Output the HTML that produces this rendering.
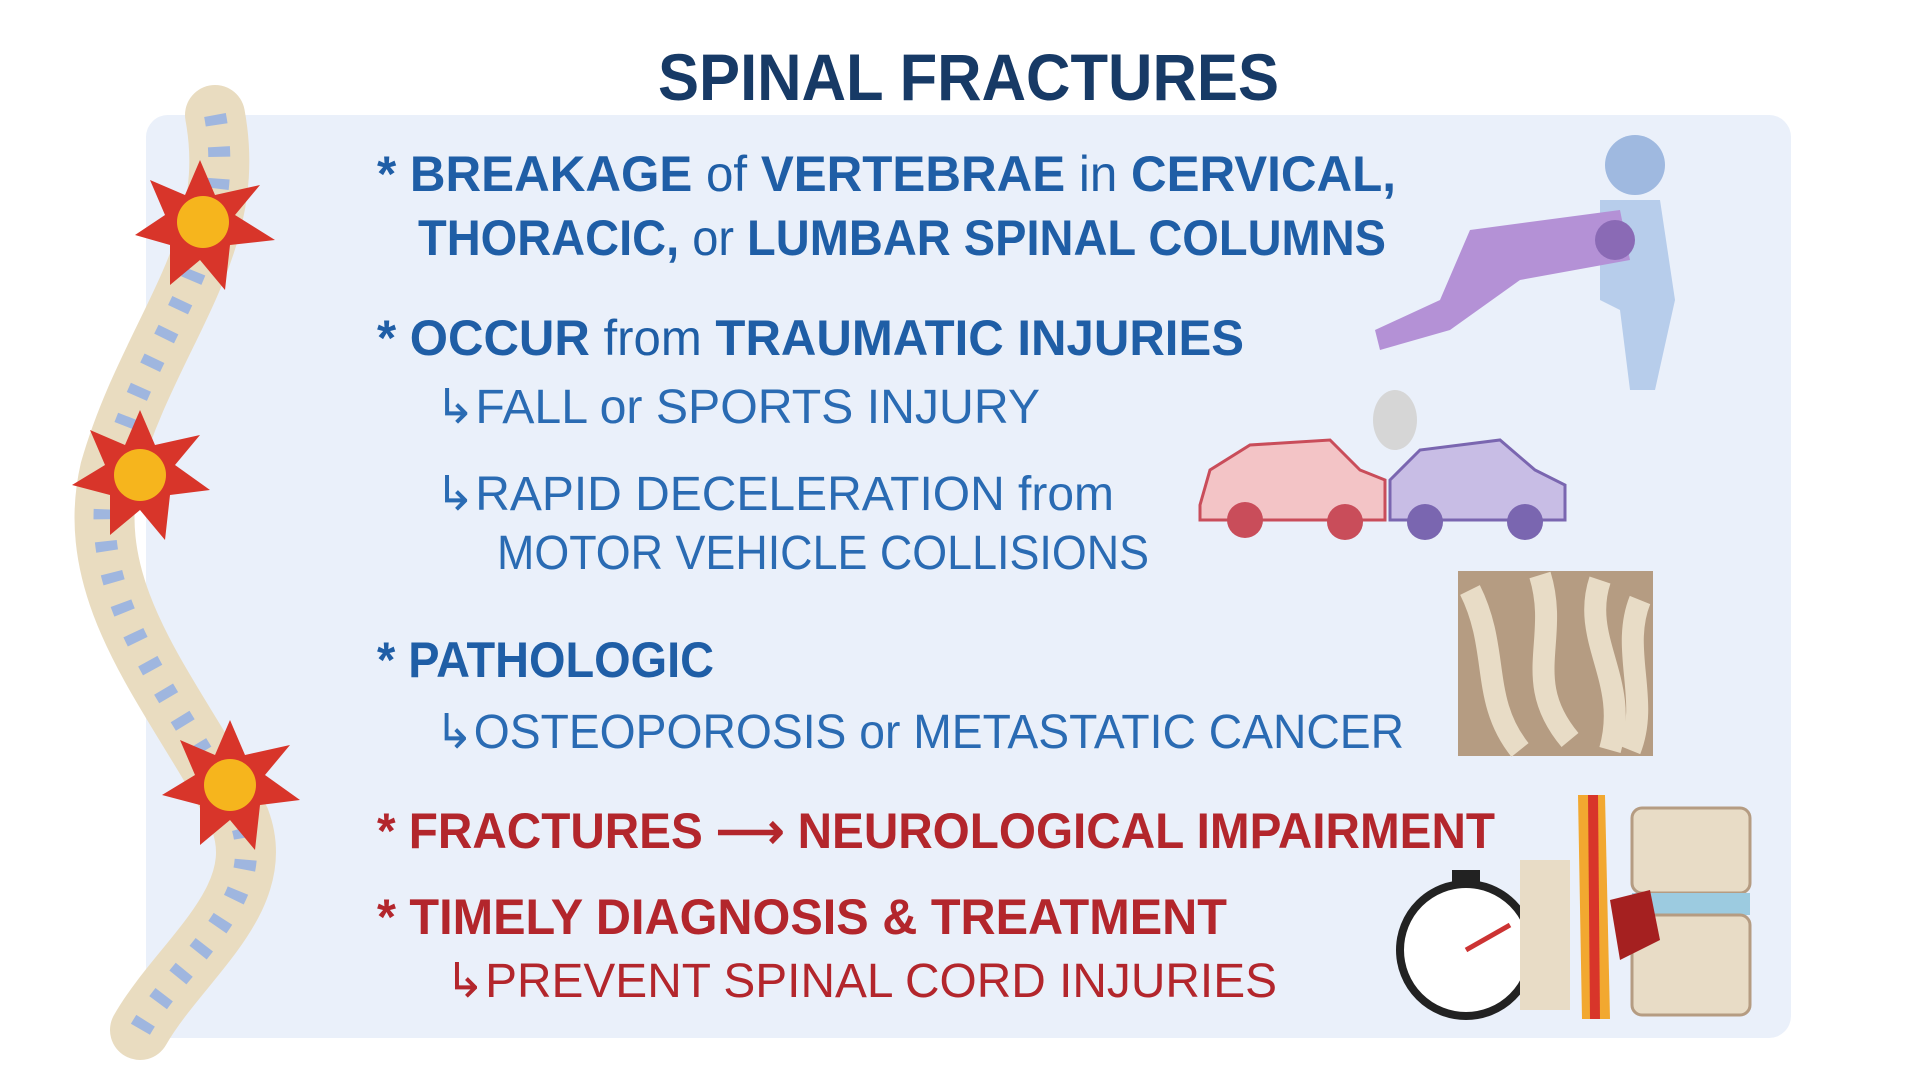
<!DOCTYPE html>
<html><head><meta charset="utf-8"><style>
html,body{margin:0;padding:0;background:#fff;width:1920px;height:1080px;overflow:hidden}
svg{display:block}
text{font-family:"Liberation Sans",sans-serif}
.b{font-weight:bold;fill:#1f5ea6;font-size:50px}
.r{font-weight:normal;fill:#2a6bb3;font-size:48px}
.rb{font-weight:bold;fill:#b3262c;font-size:50px}
.rr{font-weight:normal;fill:#b3262c;font-size:48px}
.s{font-weight:normal}
</style></head><body>
<svg width="1920" height="1080" viewBox="0 0 1920 1080">
<rect x="146" y="115" width="1645" height="923" rx="22" fill="#eaf0fa"/>
<text x="658" y="100" font-size="66" font-weight="bold" fill="#173a66" textLength="621" lengthAdjust="spacingAndGlyphs">SPINAL FRACTURES</text>

<!-- spine -->
<g>
<path d="M215 115 C240 250 150 330 110 470 C80 600 180 700 240 820 C270 900 180 960 140 1030" stroke="#e9dcc0" stroke-width="60" fill="none" stroke-linecap="round"/>
<path d="M215 115 C240 250 150 330 110 470 C80 600 180 700 240 820 C270 900 180 960 140 1030" stroke="#9fb6df" stroke-width="22" fill="none" stroke-dasharray="10 22"/>
<polygon points="200,160 215,195 260,185 235,215 275,240 230,245 225,290 200,260 170,285 170,245 135,235 165,215 150,180 185,195" fill="#d8352a"/>
<circle cx="203" cy="222" r="26" fill="#f6b51d"/>
<polygon points="140,410 155,445 200,435 175,465 210,490 170,495 165,540 140,510 110,535 110,495 72,485 105,465 90,430 125,445" fill="#d8352a"/>
<circle cx="140" cy="475" r="26" fill="#f6b51d"/>
<polygon points="230,720 245,755 290,745 265,775 300,800 260,805 255,850 230,820 200,845 200,805 162,795 195,775 180,740 215,755" fill="#d8352a"/>
<circle cx="230" cy="785" r="26" fill="#f6b51d"/>
</g>

<text x="377" y="191" class="b" textLength="1019" lengthAdjust="spacingAndGlyphs">* BREAKAGE <tspan class="s">of</tspan> VERTEBRAE <tspan class="s">in</tspan> CERVICAL,</text>
<text x="418" y="255" class="b" textLength="968" lengthAdjust="spacingAndGlyphs">THORACIC, <tspan class="s">or</tspan> LUMBAR SPINAL COLUMNS</text>
<text x="377" y="355" class="b" textLength="867" lengthAdjust="spacingAndGlyphs">* OCCUR <tspan class="s">from</tspan> TRAUMATIC INJURIES</text>
<text x="435" y="423" class="r" textLength="605" lengthAdjust="spacingAndGlyphs">↳FALL or SPORTS INJURY</text>
<text x="435" y="510" class="r" textLength="679" lengthAdjust="spacingAndGlyphs">↳RAPID DECELERATION from</text>
<text x="497" y="569" class="r" textLength="652" lengthAdjust="spacingAndGlyphs">MOTOR VEHICLE COLLISIONS</text>
<text x="377" y="677" class="b" textLength="337" lengthAdjust="spacingAndGlyphs">* PATHOLOGIC</text>
<text x="435" y="748" class="r" textLength="969" lengthAdjust="spacingAndGlyphs">↳OSTEOPOROSIS or METASTATIC CANCER</text>
<text x="377" y="848" class="rb" textLength="1118" lengthAdjust="spacingAndGlyphs">* FRACTURES ⟶ NEUROLOGICAL IMPAIRMENT</text>
<text x="377" y="934" class="rb" textLength="850" lengthAdjust="spacingAndGlyphs">* TIMELY DIAGNOSIS &amp; TREATMENT</text>
<text x="445" y="997" class="rr" textLength="832" lengthAdjust="spacingAndGlyphs">↳PREVENT SPINAL CORD INJURIES</text>

<!-- football players -->
<g>
<circle cx="1635" cy="165" r="30" fill="#9fb9e0"/>
<path d="M1600 200 L1660 200 L1675 300 L1655 390 L1630 390 L1620 310 L1600 300 Z" fill="#b7cdeb"/>
<path d="M1470 230 L1620 210 L1630 260 L1520 280 L1450 330 L1380 350 L1375 330 L1440 300 Z" fill="#b491d6"/>
<circle cx="1615" cy="240" r="20" fill="#8a6ab5"/>
</g>
<!-- cars -->
<g>
<path d="M1200 505 L1210 470 L1250 445 L1330 440 L1360 470 L1385 480 L1385 520 L1200 520 Z" fill="#f3c4c6" stroke="#c94d5a" stroke-width="3"/>
<circle cx="1245" cy="520" r="18" fill="#c94d5a"/><circle cx="1345" cy="522" r="18" fill="#c94d5a"/>
<path d="M1390 480 L1420 450 L1500 440 L1535 470 L1565 485 L1565 520 L1390 520 Z" fill="#c8bde5" stroke="#7a66b0" stroke-width="3"/>
<circle cx="1425" cy="522" r="18" fill="#7a66b0"/><circle cx="1525" cy="522" r="18" fill="#7a66b0"/>
<ellipse cx="1395" cy="420" rx="22" ry="30" fill="#d6d6d6"/>
</g>
<!-- bone texture -->
<rect x="1458" y="571" width="195" height="185" fill="#b59c82"/>
<path d="M1470 590 C1500 650 1480 700 1520 750 M1540 575 C1560 640 1520 680 1570 740 M1600 580 C1580 640 1630 680 1610 750 M1640 600 C1620 650 1650 700 1630 750" stroke="#e8dcc6" stroke-width="22" fill="none"/>
<!-- stopwatch -->
<circle cx="1466" cy="950" r="66" fill="#fff" stroke="#222" stroke-width="8"/>
<rect x="1452" y="870" width="28" height="14" fill="#222"/>
<line x1="1466" y1="950" x2="1510" y2="925" stroke="#c33" stroke-width="5"/>
<!-- vertebra -->
<rect x="1520" y="860" width="50" height="150" fill="#e8dcc6"/>
<path d="M1578 795 L1605 795 L1610 1019 L1582 1019 Z" fill="#f2a830"/>
<path d="M1588 795 L1598 795 L1600 1019 L1590 1019 Z" fill="#d8352a"/>
<rect x="1632" y="808" width="118" height="85" rx="10" fill="#e8dcc6" stroke="#b59c82" stroke-width="3"/>
<rect x="1632" y="893" width="118" height="22" fill="#9ccbe0"/>
<rect x="1632" y="915" width="118" height="100" rx="10" fill="#e8dcc6" stroke="#b59c82" stroke-width="3"/>
<path d="M1610 900 L1650 890 L1660 940 L1620 960 Z" fill="#a52020"/>
</svg>
</body></html>
